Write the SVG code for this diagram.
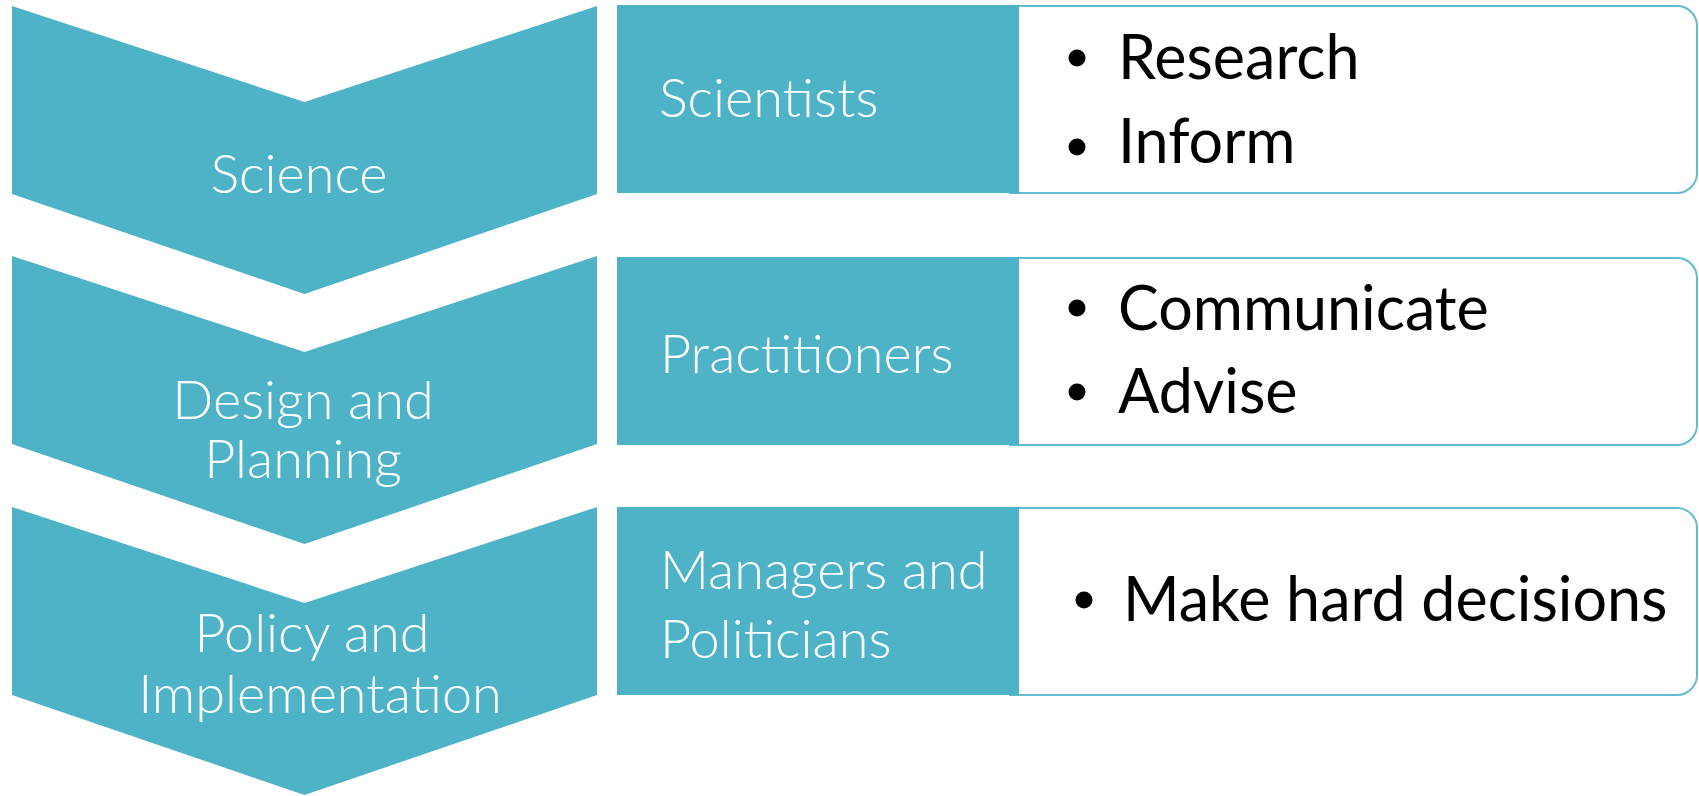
<svg xmlns="http://www.w3.org/2000/svg" width="1699" height="796" viewBox="0 0 1699 796">
<style>
.chev{fill:#4FB3C8}
.lab{fill:#4FB3C8}
.box{fill:#ffffff;stroke:#62BCCF;stroke-width:2}
.wt{font-family:Lato,"Liberation Sans",sans-serif;font-weight:300;fill:#ffffff;font-size:54px}
.ct{text-anchor:middle}
.bt{font-family:Lato,"Liberation Sans",sans-serif;font-weight:400;fill:#000000;font-size:61px}
.bul{fill:#000000}
</style>
<rect width="1699" height="796" fill="#ffffff"/>
<g id="chevron-science">
<path class="chev" d="M12,6 L304.5,102 L597,6 L597,194 L304.5,294 L12,194 Z"/>
<text class="wt ct" x="299" y="193">Science</text>
</g>
<g id="chevron-design">
<path class="chev" d="M12,256 L304.5,352 L597,256 L597,444 L304.5,544 L12,444 Z"/>
<text class="wt ct" x="303" y="419">Design and</text>
<text class="wt ct" x="303" y="478">Planning</text>
</g>
<g id="chevron-policy">
<path class="chev" d="M12,507 L304.5,603 L597,507 L597,695 L304.5,795 L12,695 Z"/>
<text class="wt ct" x="312" y="652">Policy and</text>
<text class="wt ct" x="320" y="713">Implementation</text>
</g>
<g id="row-scientists">
<path class="box" d="M1010,6 L1678,6 A20,20 0 0 1 1697,26 L1697,173 A20,20 0 0 1 1678,193 L1010,193 Z"/>
<rect class="lab" x="617" y="5" width="402" height="188"/>
<text class="wt" x="659" y="117">Scientists</text>
<circle class="bul" cx="1077" cy="58" r="8.5"/>
<text class="bt" x="1118" y="79">Research</text>
<circle class="bul" cx="1077" cy="147" r="8.5"/>
<text class="bt" x="1118" y="163">Inform</text>
</g>
<g id="row-practitioners">
<path class="box" d="M1010,258 L1678,258 A20,20 0 0 1 1697,278 L1697,425 A20,20 0 0 1 1678,445 L1010,445 Z"/>
<rect class="lab" x="617" y="257" width="402" height="188"/>
<text class="wt" x="660" y="373">Practitioners</text>
<circle class="bul" cx="1077" cy="308" r="8.5"/>
<text class="bt" x="1118" y="330">Communicate</text>
<circle class="bul" cx="1077" cy="392" r="8.5"/>
<text class="bt" x="1118" y="413">Advise</text>
</g>
<g id="row-managers">
<path class="box" d="M1010,508 L1678,508 A20,20 0 0 1 1697,528 L1697,675 A20,20 0 0 1 1678,695 L1010,695 Z"/>
<rect class="lab" x="617" y="507" width="402" height="188"/>
<text class="wt" x="660" y="589">Managers and</text>
<text class="wt" x="660" y="658">Politicians</text>
<circle class="bul" cx="1084" cy="600" r="8.5"/>
<text class="bt" x="1123" y="621">Make hard decisions</text>
</g>
<g id="connectors"></g>
</svg>
